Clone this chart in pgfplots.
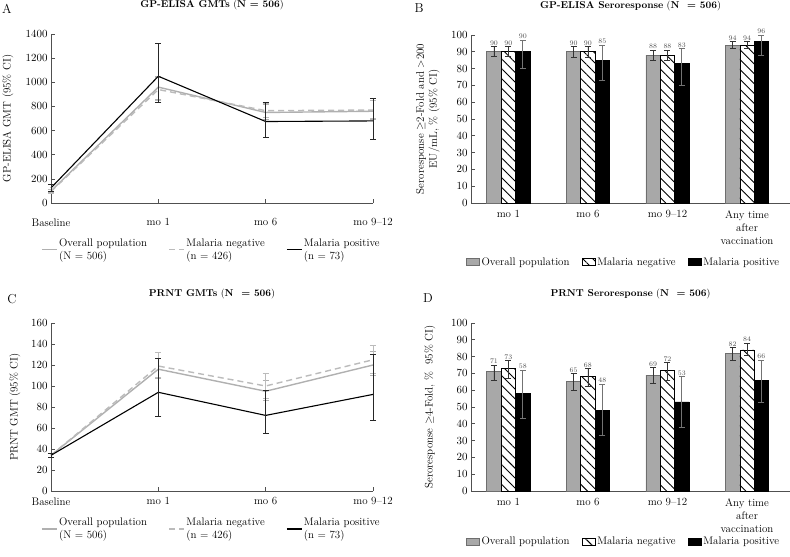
\documentclass[border=0pt]{standalone}
\usepackage{pgfplots}
\pgfplotsset{compat=1.18}
\usepackage{pgfplotstable}
\usetikzlibrary{patterns.meta}
\definecolor{ovl}{HTML}{B0B0B0}
\definecolor{negc}{HTML}{BBBBBB}
\definecolor{barg}{HTML}{A8A8A8}
\definecolor{barge}{HTML}{6E6E6E}
\definecolor{axc}{HTML}{505050}
\definecolor{labc}{HTML}{505050}

% Panel A: GP-ELISA GMT
\pgfplotstableread{
x y ep em
0 100 15 15
1 960 90 100
2 750 70 60
3 760 90 70
}\Aovl
\pgfplotstableread{
x y ep em
0 95 15 15
1 940 100 90
2 765 60 60
3 770 80 70
}\Aneg
\pgfplotstableread{
x y ep em
0 125 30 30
1 1050 275 220
2 675 160 130
3 680 190 155
}\Apos
% Panel C: PRNT GMT
\pgfplotstableread{
x y ep em
0 34 2 2
1 116 10 9
2 95 10 9
3 120 13 10
}\Covl
\pgfplotstableread{
x y ep em
0 34 2 2
1 119 13 11
2 100 12 12
3 125 14 13
}\Cneg
\pgfplotstableread{
x y ep em
0 34 2 2
1 94 32 23
2 72 24 17
3 92 38 25
}\Cpos
% Panel B: GP-ELISA seroresponse
\pgfplotstableread{
x y ep em
0 90 3 3
1 90 3 3.5
2 88 3 3
3 94 2 2
}\Bovl
\pgfplotstableread{
x y ep em
0 90 3 3
1 90 3 3.5
2 88 3 3
3 94 2 2
}\Bneg
\pgfplotstableread{
x y ep em
0 90 7 10
1 85 9 12
2 83 9 13
3 96 4 8
}\Bpos
% Panel D: PRNT seroresponse
\pgfplotstableread{
x y ep em
0 71 4 5
1 65 5 5
2 69 4.5 5
3 82 3.5 4
}\Dovl
\pgfplotstableread{
x y ep em
0 73 4.5 6
1 68 5 6
2 72 4.5 6
3 84 4 3.5
}\Dneg
\pgfplotstableread{
x y ep em
0 58 14 14.5
1 48 15.5 15
2 53 15 15
3 66 12 13
}\Dpos

\pgfplotsset{
  common/.style={
    scale only axis, axis lines*=left,
    axis line style={axc, line width=0.7bp},
    every tick/.style={axc, line width=0.7bp},
    major tick length=4bp,
    yticklabel style={/pgf/number format/1000 sep={}},
    clip=false,
    title style={font=\fontsize{10}{12}\selectfont, anchor=center,
      at={(axis description cs:0.5,1)}, yshift=23bp},
    every axis y label/.style={rotate=90, anchor=center},
  },
  linechart/.style={
    common, width=322bp, height=169bp,
    xmin=0, xmax=3, xtick={0,1,2,3},
    xticklabels={Baseline, mo 1, mo 6, mo 9--12},
    legend columns=3, legend cell align=left,
    legend style={draw=none, fill=none, inner sep=0pt, anchor=north west,
      cells={align=left}, nodes={inner sep=1.5bp},
      /tikz/every even column/.append style={column sep=20bp}},
    legend image code/.code={\draw[##1] (0bp,0bp) -- (15bp,0bp);},
  },
  ovlline/.style={ovl, line width=1.4bp, error bars/.cd, y dir=both, y explicit,
    error bar style={ovl, line width=0.9bp, solid},
    error mark options={ovl, rotate=90, mark size=3bp, line width=0.9bp, solid}},
  negline/.style={negc, line width=1.4bp, dash pattern=on 6bp off 4bp, error bars/.cd, y dir=both, y explicit,
    error bar style={negc, line width=0.9bp, solid},
    error mark options={negc, rotate=90, mark size=3bp, line width=0.9bp, solid}},
  posline/.style={black, line width=1.1bp, error bars/.cd, y dir=both, y explicit,
    error bar style={black!85, line width=0.8bp},
    error mark options={black!85, rotate=90, mark size=3bp, line width=0.8bp}},
  barchart/.style={
    common, width=319bp, height=168bp,
    ybar=0pt, bar width=14.4bp,
    xmin=-0.47, xmax=3.54, xtick={0,1,2,3},
    xticklabels={mo 1, mo 6, mo 9--12, {Any time\\after\\vaccination}},
    xticklabel style={align=center, text depth=0pt},
    xtick style={draw=none},
    ymin=0, ymax=100, ytick={0,10,...,100},
    legend columns=3, legend cell align=left,
    legend style={draw=none, fill=none, inner sep=0pt, anchor=west,
      nodes={inner sep=1.5bp},
      /tikz/every even column/.append style={column sep=11bp}},
    legend image code/.code={\draw[##1, line width=0.7bp] (0bp,-3.5bp) rectangle (13bp,3.5bp);},
    nodes near coords,
    visualization depends on={\thisrow{ep} \as \myep},
    every node near coord/.append style={font=\fontsize{7.5}{8}\selectfont, text=labc,
      anchor=south, inner sep=1bp, yshift=\myep*1.68bp},
  },
  ovlbar/.style={fill=barg, draw=barge, line width=0.7bp,
    error bars/.cd, y dir=both, y explicit,
    error bar style={black!80, line width=0.8bp},
    error mark options={black!80, rotate=90, mark size=3bp, line width=0.8bp}},
  negbar/.style={draw=black, line width=0.7bp, pattern={Lines[angle=-45, distance=7bp, line width=0.9bp]},
    error bars/.cd, y dir=both, y explicit,
    error bar style={black!80, line width=0.8bp},
    error mark options={black!80, rotate=90, mark size=3bp, line width=0.8bp}},
  posbar/.style={fill=black, draw=black, line width=0.7bp,
    error bars/.cd, y dir=both, y explicit,
    error bar style={black!55, line width=0.8bp},
    error mark options={black!55, rotate=90, mark size=3bp, line width=0.8bp}},
}

\begin{document}
\begin{tikzpicture}[font=\fontsize{11}{13}\selectfont]
\useasboundingbox (0,0) rectangle (790bp,-557bp);

\node[font=\fontsize{13}{15}\selectfont] at (7bp,-9bp) {A};
\node[font=\fontsize{13}{15}\selectfont] at (419bp,-8bp) {B};
\node[font=\fontsize{13}{15}\selectfont] at (12bp,-299bp) {C};
\node[font=\fontsize{13}{15}\selectfont] at (428bp,-298bp) {D};

% ---------- A ----------
\begin{axis}[linechart, at={(51bp,-203bp)}, anchor=south west,
  ymin=0, ymax=1400, ytick={0,200,...,1400},
  xticklabel style={yshift=-12bp},
  title={\textbf{GP-ELISA GMTs} (\textbf{N = 506})},
  ylabel={GP-ELISA GMT (95\% CI)},
  ylabel style={at={(axis description cs:-0.134,0.5)}},
  legend style={at={(axis description cs:-0.031,-0.20)}},
]
\addplot[ovlline] table[x=x, y=y, y error plus=ep, y error minus=em] {\Aovl};
\addlegendentry{Overall population\\(N = 506)}
\addplot[negline] table[x=x, y=y, y error plus=ep, y error minus=em] {\Aneg};
\addlegendentry{Malaria negative\\(n = 426)}
\addplot[posline] table[x=x, y=y, y error plus=ep, y error minus=em] {\Apos};
\addlegendentry{Malaria positive\\(n = 73)}
\end{axis}

% ---------- C ----------
\begin{axis}[linechart, at={(51bp,-491bp)}, anchor=south west, height=168bp,
  ymin=0, ymax=160, ytick={0,20,...,160},
  xticklabel style={yshift=-3bp},
  title={\textbf{PRNT GMTs} (\textbf{N\ \ = 506})},
  ylabel={PRNT GMT (95\% CI)},
  ylabel style={at={(axis description cs:-0.112,0.5)}},
  legend style={at={(axis description cs:-0.031,-0.15)}},
]
\addplot[ovlline] table[x=x, y=y, y error plus=ep, y error minus=em] {\Covl};
\addlegendentry{Overall population\\(N = 506)}
\addplot[negline] table[x=x, y=y, y error plus=ep, y error minus=em] {\Cneg};
\addlegendentry{Malaria negative\\(n = 426)}
\addplot[posline] table[x=x, y=y, y error plus=ep, y error minus=em] {\Cpos};
\addlegendentry{Malaria positive\\(n = 73)}
\end{axis}

% ---------- B ----------
\begin{axis}[barchart, at={(471bp,-203bp)}, anchor=south west,
  title={\textbf{GP-ELISA Seroresponse} (\textbf{N\ \ = 506})},
  ylabel={Seroresponse $\geq$2-Fold and >200\\EU/mL, \% (95\% CI)},
  ylabel style={align=center, at={(axis description cs:-0.135,0.5)}},
  legend style={at={(axis description cs:-0.015,-0.351)}},
]
\addplot[ovlbar] table[x=x, y=y, y error plus=ep, y error minus=em] {\Bovl};
\addlegendentry{Overall population}
\addplot[negbar] table[x=x, y=y, y error plus=ep, y error minus=em] {\Bneg};
\addlegendentry{Malaria negative}
\addplot[posbar] table[x=x, y=y, y error plus=ep, y error minus=em] {\Bpos};
\addlegendentry{Malaria positive}
\end{axis}

% ---------- D ----------
\begin{axis}[barchart, at={(471bp,-491bp)}, anchor=south west,
  title={\textbf{PRNT Seroresponse} (\textbf{N\ \ = 506})},
  ylabel={Seroresponse $\geq$4-Fold, \%\ \ 95\% CI)},
  ylabel style={at={(axis description cs:-0.129,0.5)}},
  legend style={at={(axis description cs:-0.015,-0.302)}},
]
\addplot[ovlbar] table[x=x, y=y, y error plus=ep, y error minus=em] {\Dovl};
\addlegendentry{Overall population}
\addplot[negbar] table[x=x, y=y, y error plus=ep, y error minus=em] {\Dneg};
\addlegendentry{Malaria negative}
\addplot[posbar] table[x=x, y=y, y error plus=ep, y error minus=em] {\Dpos};
\addlegendentry{Malaria positive}
\end{axis}
\end{tikzpicture}
\end{document}
